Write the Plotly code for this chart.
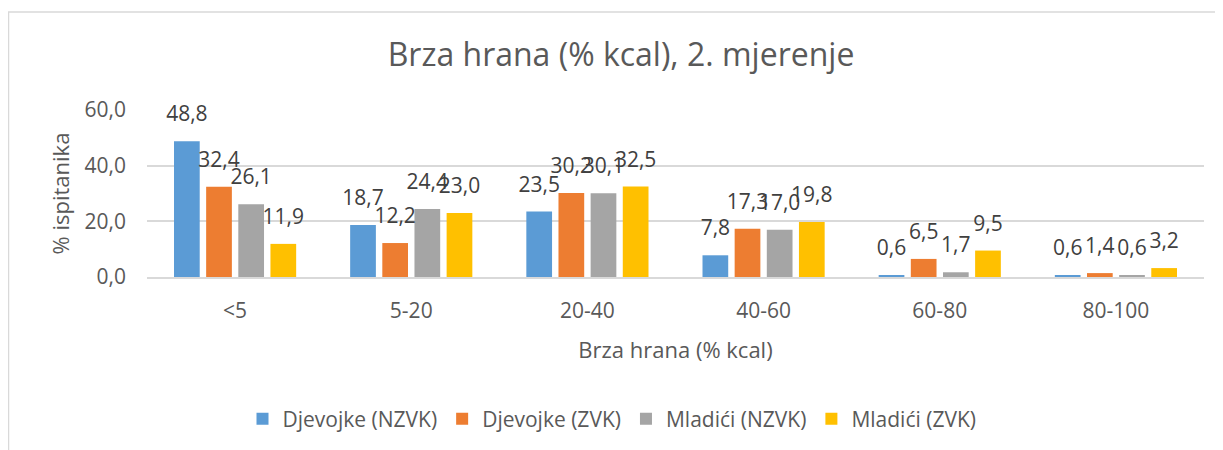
import plotly.graph_objects as go

# categories and series
categories = ["<5", "5-20", "20-40", "40-60", "60-80", "80-100"]
djevojke_nzvk = [48.8, 18.7, 23.5, 7.8, 0.6, 0.6]
djevojke_zvk = [32.4, 12.2, 30.2, 17.3, 6.5, 1.4]
mladici_nzvk = [26.1, 24.4, 30.1, 17.0, 1.7, 0.6]
mladici_zvk = [11.9, 23.0, 32.5, 19.8, 9.5, 3.2]
y_ticks = [0, 20, 40, 60]

series = [
    ("Djevojke (NZVK)", djevojke_nzvk, "#5B9BD5"),
    ("Djevojke (ZVK)", djevojke_zvk, "#ED7D31"),
    ("Mladići (NZVK)", mladici_nzvk, "#A5A5A5"),
    ("Mladići (ZVK)", mladici_zvk, "#FFC000"),
]

FONT = "Open Sans"
TXT = "#595959"
GRID = "#D9D9D9"

# page body has an 8px margin, so the figure sits at (8, 8) in the window
OFF = 8
W, H = 1223 - OFF, 450 - OFF
L, R, T, B = 147 - OFF, 19, 110 - OFF, 172
pw, ph = W - L - R, H - T - B

fig = go.Figure()
for name, vals, col in series:
    fig.add_trace(go.Bar(x=categories, y=vals, name=name, marker_color=col,
                         marker_line_width=0, hoverinfo="skip"))
# data labels sit a bit above the bars, like Excel "outside end"
for name, vals, col in series:
    fig.add_trace(go.Scatter(x=categories, y=vals, mode="markers+text",
                             marker=dict(size=22, opacity=0),
                             texttemplate="%{y:.1f}", textposition="top center",
                             textfont=dict(family=FONT, size=21, color="#404040"),
                             showlegend=False, hoverinfo="skip", cliponaxis=False))


# screen pixel -> paper fraction
def px_x(p):
    return (p - OFF - L) / pw


def px_y(p):
    return (H - B - (p - OFF)) / ph


fig.update_layout(
    width=W, height=H,
    margin=dict(l=L, r=R, t=T, b=B),
    paper_bgcolor="white", plot_bgcolor="white",
    separators=",.",
    font=dict(family=FONT, size=21, color=TXT),
    barmode="group", bargap=0.27, bargroupgap=0.2,
    scattermode="group", scattergap=0.27,
    title=dict(text="Brza hrana (% kcal), 2. mjerenje", x=(621 - OFF) / W, xanchor="center",
               y=1 - (55 - OFF) / H, yanchor="middle",
               font=dict(family=FONT, size=32, color=TXT)),
    xaxis=dict(showline=True, linecolor=GRID, linewidth=2, ticks="",
               ticklabelstandoff=14,
               tickfont=dict(size=21, color=TXT),
               title=dict(text="Brza hrana (% kcal)", font=dict(size=22, color=TXT), standoff=19)),
    yaxis=dict(range=[0, 60], tickvals=y_ticks, tickformat=".1f",
               showgrid=True, gridcolor=GRID, gridwidth=1.5, zeroline=False,
               ticks="", ticklabelstandoff=20,
               tickfont=dict(size=21, color=TXT),
               title=dict(text="% ispitanika", font=dict(size=22, color=TXT), standoff=8)),
    legend=dict(orientation="h", x=px_x(612), xanchor="center", y=px_y(419), yanchor="middle",
                font=dict(size=21, color=TXT), bgcolor="rgba(0,0,0,0)"),
    shapes=[dict(type="rect", xref="paper", yref="paper",
                 x0=px_x(8.5), x1=px_x(1223 + 20), y0=px_y(450 + 20), y1=px_y(11.5),
                 line=dict(color=GRID, width=1.5), layer="below")],
)

fig.write_html("out.html")
